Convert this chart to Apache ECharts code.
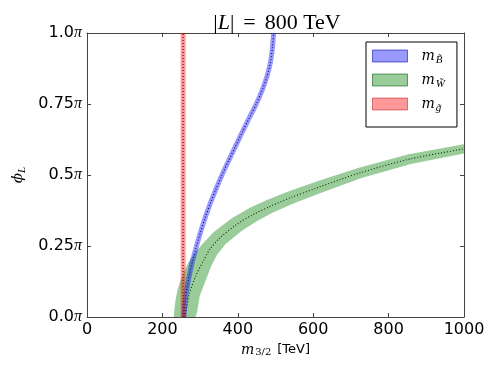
<!DOCTYPE html>
<html><head><meta charset="utf-8">
<script src="https://cdn.jsdelivr.net/npm/echarts@6/dist/echarts.min.js"></script>
<style>html,body{margin:0;padding:0;background:#fff}#c{width:498px;height:374px}</style>
</head><body><div id="c"></div>
<script>
// ---- axis ticks ----
const xTickValues = [0, 200, 400, 600, 800, 1000];
const yTickValues = [0, 0.25, 0.5, 0.75, 1.0];
const yTickLabels = ['0.0', '0.25', '0.5', '0.75', '1.0'];

// ---- legend ----
const seriesNames = ['mB', 'mW', 'mg'];
const seriesSubs = ['B\u0303', 'W\u0303', 'g\u0303'];

// ---- Bino (blue) curve: m3/2 [TeV] vs phi_L [units of pi] ----
const binoX   = [257, 260, 265, 272, 280.5, 290.5, 301.5, 313.5, 327, 342, 358, 375.5, 393.5, 411.5, 430, 449, 465, 478, 487, 492, 495];
const binoPhi = [0, 0.05, 0.1, 0.15, 0.2, 0.25, 0.3, 0.35, 0.4, 0.45, 0.5, 0.55, 0.6, 0.65, 0.7, 0.75, 0.8, 0.85, 0.9, 0.95, 1.0];

// ---- Wino (green) central curve ----
const winoX   = [259, 264, 272, 288, 308, 325, 352, 396, 440, 485, 538, 613, 723, 856, 1000];
const winoPhi = [0, 0.03, 0.085, 0.143, 0.196, 0.237, 0.278, 0.325, 0.360, 0.389, 0.419, 0.456, 0.507, 0.556, 0.592];
// Wino band edges
const winoUpperX   = [230, 232, 235, 240, 246, 256, 268, 284, 306, 337, 384, 431, 477, 532, 607, 719, 853, 1000];
const winoUpperPhi = [0, 0.03, 0.061, 0.095, 0.12, 0.155, 0.19, 0.222, 0.257, 0.300, 0.348, 0.384, 0.412, 0.441, 0.476, 0.525, 0.573, 0.608];
const winoLowerX   = [288, 292, 299, 315, 330, 345, 367, 409, 450, 492, 544, 618, 728, 859, 1000];
const winoLowerPhi = [0, 0.018, 0.074, 0.129, 0.181, 0.219, 0.256, 0.302, 0.337, 0.367, 0.398, 0.436, 0.489, 0.539, 0.576];

// ---- Gluino (red): independent of phi ----
const gluinoX = [255, 255];
const gluinoPhi = [0, 1];

const pairs = (xs, ys) => xs.map((x, i) => [x, ys[i]]);

const chart = echarts.init(document.getElementById('c'), null, {renderer: 'canvas'});
const axisColor = '#444';
const serif = "'Liberation Serif', 'DejaVu Serif', serif";
const mathSerif = "'DejaVu Serif', serif";
const sans = "'DejaVu Sans', sans-serif";

const dotted = {color: '#000', width: 1.1, type: [1, 2]};

const option = {
  animation: false,
  backgroundColor: '#fff',
  title: {
    text: '|{i|L}|{g| }={g| }800 TeV',
    left: 277, top: 12, textAlign: 'center', padding: 0,
    textStyle: {fontFamily: serif, fontSize: 22, fontWeight: 'normal', color: '#000',
      rich: {i: {fontFamily: serif, fontStyle: 'italic', fontSize: 22, color: '#000'},
             g: {width: 9, fontSize: 22}}}
  },
  grid: {left: 87, right: 34, top: 33, bottom: 57, containLabel: false},
  legend: {
    orient: 'vertical', left: 366, top: 42, padding: [4, 12, 13, 6],
    itemGap: 4, itemWidth: 35, itemHeight: 12,
    borderColor: '#000', borderWidth: 1, borderRadius: 0, backgroundColor: '#fff',
    selectedMode: false,
    data: [
      {name: seriesNames[0], icon: 'rect', itemStyle: {color: 'rgba(0,0,255,0.4)', borderColor: 'rgba(0,0,150,0.55)', borderWidth: 1}},
      {name: seriesNames[1], icon: 'rect', itemStyle: {color: 'rgba(0,128,0,0.4)', borderColor: 'rgba(0,80,0,0.55)', borderWidth: 1}},
      {name: seriesNames[2], icon: 'rect', itemStyle: {color: 'rgba(255,0,0,0.4)', borderColor: 'rgba(160,0,0,0.45)', borderWidth: 1}}
    ],
    formatter: function (n) { return '{sp| }{m|m}{s|' + seriesSubs[seriesNames.indexOf(n)] + '}'; },
    textStyle: {
      color: '#000',
      rich: {
        sp: {width: 9, fontSize: 10, lineHeight: 12},
        m: {fontFamily: mathSerif, fontStyle: 'italic', fontSize: 14, lineHeight: 12, color: '#000'},
        s: {fontFamily: serif, fontStyle: 'italic', fontSize: 11, lineHeight: 12, padding: [9, 0, 0, 1], color: '#000'}
      }
    }
  },
  xAxis: [{
    type: 'value', min: 0, max: 1000, interval: 200, position: 'bottom',
    axisLine: {show: true, onZero: false, lineStyle: {color: axisColor, width: 1}},
    axisTick: {show: true, inside: true, length: 4, lineStyle: {color: axisColor}},
    splitLine: {show: false},
    axisLabel: {margin: 5, fontFamily: sans, fontSize: 16, color: '#000',
      formatter: function (v) { return xTickValues.indexOf(v) >= 0 ? String(v) : ''; }},
    name: '{m|m}{s|3/2}{g| }[TeV]', nameLocation: 'middle', nameGap: 21,
    nameTextStyle: {fontFamily: sans, fontSize: 13, color: '#000',
      rich: {m: {fontFamily: mathSerif, fontStyle: 'italic', fontSize: 14, color: '#000'},
             s: {fontFamily: mathSerif, fontSize: 10, padding: [6, 0, 0, 1], color: '#000'},
             g: {width: 6, fontSize: 13}}}
  }, {
    type: 'value', min: 0, max: 1000, interval: 200, position: 'top',
    axisLine: {show: true, onZero: false, lineStyle: {color: axisColor, width: 1}},
    axisTick: {show: true, inside: true, length: 4, lineStyle: {color: axisColor}},
    splitLine: {show: false}, axisLabel: {show: false}
  }],
  yAxis: [{
    type: 'value', min: 0, max: 1, interval: 0.25, position: 'left',
    axisLine: {show: true, onZero: false, lineStyle: {color: axisColor, width: 1}},
    axisTick: {show: true, inside: true, length: 4, lineStyle: {color: axisColor}},
    splitLine: {show: false},
    axisLabel: {margin: 5, fontFamily: sans, fontSize: 16, color: '#000',
      formatter: function (v) {
        const i = yTickValues.indexOf(v);
        return i >= 0 ? '{n|' + yTickLabels[i] + '}{p|π}' : '';
      },
      rich: {n: {fontFamily: sans, fontSize: 16, color: '#000'},
             p: {fontFamily: serif, fontStyle: 'italic', fontSize: 16, color: '#000'}}},
    name: 'ϕ{s|L}', nameLocation: 'middle', nameGap: 49, nameRotate: 90,
    nameTextStyle: {fontFamily: mathSerif, fontStyle: 'italic', fontSize: 15, color: '#000',
      rich: {s: {fontFamily: serif, fontStyle: 'italic', fontSize: 11, padding: [7, 0, 0, 0], color: '#000'}}}
  }, {
    type: 'value', min: 0, max: 1, interval: 0.25, position: 'right',
    axisLine: {show: true, onZero: false, lineStyle: {color: axisColor, width: 1}},
    axisTick: {show: true, inside: true, length: 4, lineStyle: {color: axisColor}},
    splitLine: {show: false}, axisLabel: {show: false}
  }],
  series: [
    {type: 'line', name: 'gc', data: pairs(gluinoX, gluinoPhi), symbol: 'none', silent: true,
     lineStyle: dotted, z: 2},
    {type: 'line', name: 'bc', data: pairs(binoX, binoPhi), symbol: 'none', smooth: 0.3, silent: true,
     lineStyle: dotted, z: 2},
    {type: 'line', name: 'wc', data: pairs(winoX, winoPhi), symbol: 'none', smooth: 0.3, silent: true,
     lineStyle: dotted, z: 2},
    {type: 'line', name: seriesNames[0], data: pairs(binoX, binoPhi), symbol: 'none', smooth: 0.3,
     itemStyle: {color: 'rgba(0,0,255,0.4)'},
     lineStyle: {color: 'rgba(0,0,255,0.4)', width: 5, cap: 'butt'}, z: 3},
    {type: 'custom', name: seriesNames[1], data: pairs(winoX, winoPhi),
     itemStyle: {color: 'rgba(0,128,0,0.4)'}, z: 3,
     renderItem: function (params, api) {
       if (params.dataIndex !== 0) return null;
       const pts = [];
       for (let i = 0; i < winoUpperX.length; i++) pts.push(api.coord([winoUpperX[i], winoUpperPhi[i]]));
       for (let i = winoLowerX.length - 1; i >= 0; i--) pts.push(api.coord([winoLowerX[i], winoLowerPhi[i]]));
       return {type: 'polygon', shape: {points: pts, smooth: 0}, style: {fill: 'rgba(0,128,0,0.4)', stroke: null}};
     }},
    {type: 'line', name: seriesNames[2], data: pairs(gluinoX, gluinoPhi), symbol: 'none',
     itemStyle: {color: 'rgba(255,0,0,0.4)'},
     lineStyle: {color: 'rgba(255,0,0,0.4)', width: 5, cap: 'butt'}, z: 3}
  ]
};
chart.setOption(option);
</script>
</body></html>
